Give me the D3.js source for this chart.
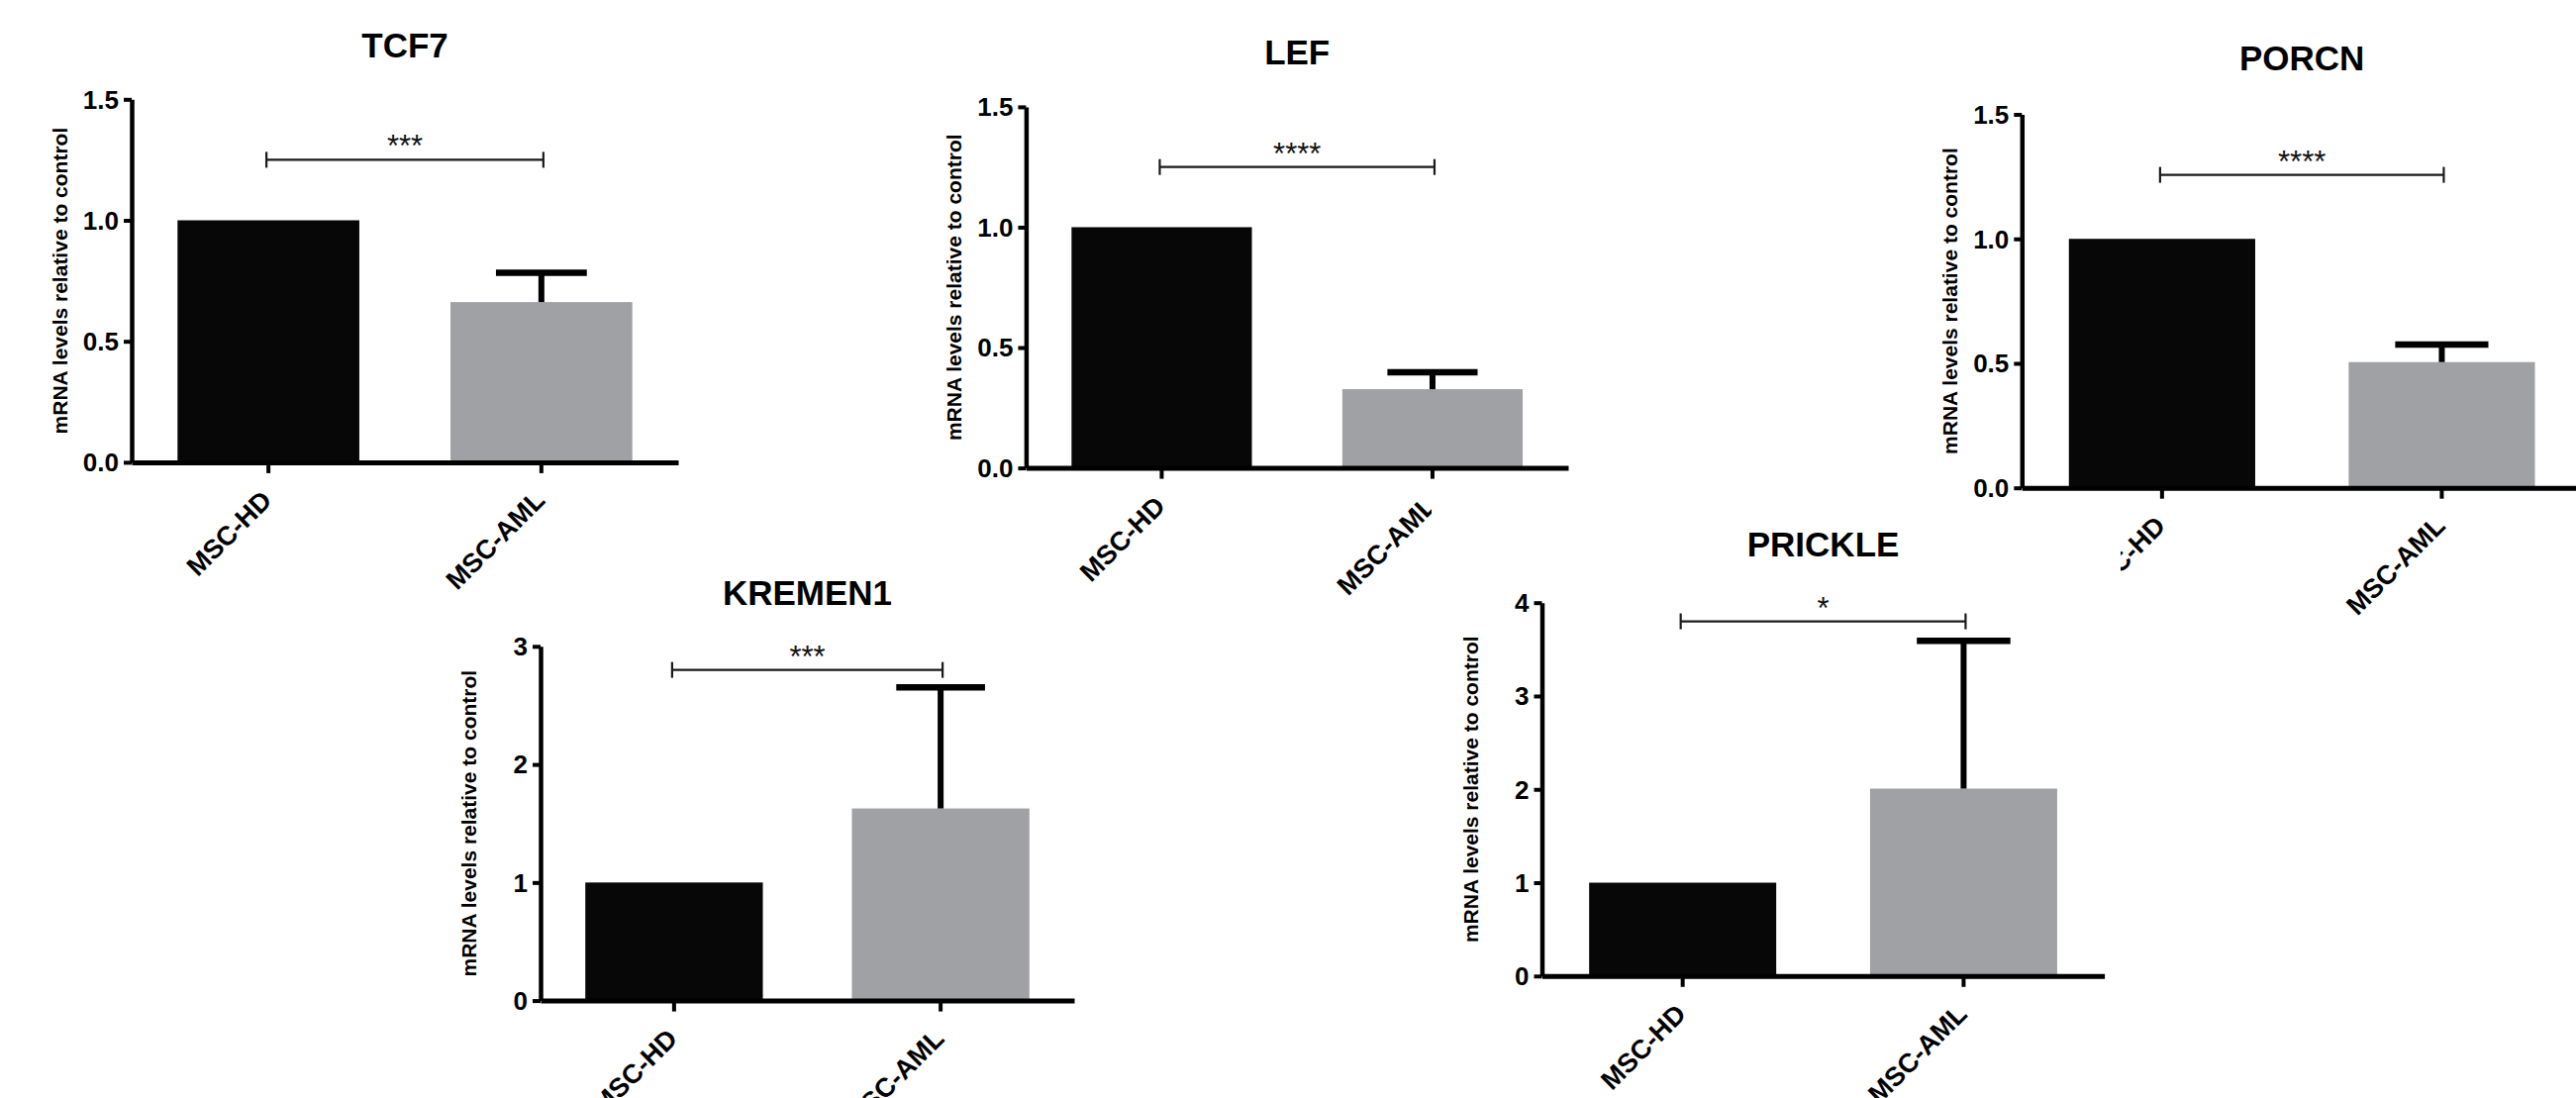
<!DOCTYPE html>
<html><head><meta charset="utf-8">
<script src="https://cdn.jsdelivr.net/npm/d3@7"></script>
<style>html,body{margin:0;padding:0;background:#fff;overflow:hidden}</style>
</head><body>
<svg id="chart" width="2602" height="1109"></svg>
<script>
// ---------- data ----------
const genes = ["TCF7", "LEF", "PORCN", "KREMEN1", "PRICKLE"];
const groups = ["MSC-HD", "MSC-AML"];
const valuesHD = [1, 1, 1, 1, 1];
const valuesAML = [0.662, 0.327, 0.505, 1.627, 2.008];
const errorHD = [0, 0, 0, 0, 0];
const errorAML = [0.121, 0.070, 0.070, 1.025, 1.582];
const yMaxes = [1.5, 1.5, 1.5, 3, 4];
const tickValues = [[0, 0.5, 1, 1.5], [0, 0.5, 1, 1.5], [0, 0.5, 1, 1.5], [0, 1, 2, 3], [0, 1, 2, 3, 4]];
const tickFormats = [".1f", ".1f", ".1f", "d", "d"];
const stars = ["***", "****", "****", "***", "*"];
const bracketValues = [1.25, 1.25, 1.257, 2.80, 3.80];
const yLabel = "mRNA levels relative to control";

// ---------- layout ----------
const layout = [
  {x0: 133,    x1: 685,    yTop: 100.3, yBot: 466.9,  titleY: 57.7},
  {x0: 1036.4, x1: 1584,   yTop: 107.9, yBot: 472.6,  titleY: 65},
  {x0: 2042.3, x1: 2608,   yTop: 115.5, yBot: 492.7,  titleY: 71.4},
  {x0: 546,    x1: 1085,   yTop: 652.8, yBot: 1010.6, titleY: 610.8},
  {x0: 1557.5, x1: 2125.6, yTop: 608.7, yBot: 985.8,  titleY: 562, mask: [1446, 505, 696, 604]}
];
const barColors = ["#070707", "#a0a1a5"];
const FONT = "'Liberation Sans', Arial, Helvetica, sans-serif";

const svg = d3.select("#chart");
svg.append("rect").attr("width", 2602).attr("height", 1109).attr("fill", "#fff");

genes.forEach((gene, i) => {
  const L = layout[i];
  const g = svg.append("g");
  if (L.mask) {
    g.append("rect").attr("x", L.mask[0]).attr("y", L.mask[1])
      .attr("width", L.mask[2]).attr("height", L.mask[3]).attr("fill", "#fff");
  }
  const x = d3.scaleBand().domain(groups).range([L.x0, L.x1])
    .paddingInner(0.334).paddingOuter(0.168);
  const y = d3.scaleLinear().domain([0, yMaxes[i]]).range([L.yBot, L.yTop]);

  const rows = groups.map((grp, k) => ({
    grp, value: k === 0 ? valuesHD[i] : valuesAML[i], err: k === 0 ? errorHD[i] : errorAML[i], k
  }));

  // bars
  g.selectAll("rect.bar").data(rows).join("rect").attr("class", "bar")
    .attr("x", d => x(d.grp)).attr("width", x.bandwidth())
    .attr("y", d => y(d.value)).attr("height", d => y(0) - y(d.value))
    .attr("fill", d => barColors[d.k]);

  // error bars (upper)
  const eb = rows.filter(d => d.err > 0);
  g.selectAll("line.errv").data(eb).join("line")
    .attr("x1", d => x(d.grp) + x.bandwidth() / 2).attr("x2", d => x(d.grp) + x.bandwidth() / 2)
    .attr("y1", d => y(d.value)).attr("y2", d => y(d.value + d.err))
    .attr("stroke", "#000").attr("stroke-width", 6);
  g.selectAll("line.errc").data(eb).join("line")
    .attr("x1", d => x(d.grp) + x.bandwidth() / 4).attr("x2", d => x(d.grp) + x.bandwidth() * 3 / 4)
    .attr("y1", d => y(d.value + d.err)).attr("y2", d => y(d.value + d.err))
    .attr("stroke", "#000").attr("stroke-width", 6.5);

  // y axis
  const yAxis = d3.axisLeft(y).tickValues(tickValues[i]).tickFormat(d3.format(tickFormats[i]))
    .tickSize(8).tickSizeOuter(0).tickPadding(5);
  const ya = g.append("g").attr("transform", `translate(${L.x0},0)`).call(yAxis);
  ya.select(".domain").attr("stroke", "#000").attr("stroke-width", 4.5);
  ya.selectAll(".tick line").attr("stroke", "#000").attr("stroke-width", 4);
  ya.selectAll(".tick text").attr("fill", "#000").attr("font-family", FONT)
    .attr("font-weight", "bold").attr("font-size", 26).attr("dy", "0.34em");

  // x axis
  const xAxis = d3.axisBottom(x).tickSize(11).tickSizeOuter(0);
  const xa = g.append("g").attr("transform", `translate(0,${L.yBot})`).call(xAxis);
  xa.select(".domain").attr("stroke", "#000").attr("stroke-width", 5);
  xa.selectAll(".tick line").attr("stroke", "#000").attr("stroke-width", 4);
  xa.selectAll(".tick text").attr("fill", "#000").attr("font-family", FONT)
    .attr("font-weight", "bold").attr("font-size", 27)
    .attr("x", 0).attr("y", 0).attr("dy", 0)
    .attr("text-anchor", "end").attr("transform", "translate(5,40) rotate(-45)");

  // y label
  g.append("text").attr("transform", `translate(${L.x0 - 65},${(L.yTop + L.yBot) / 2}) rotate(-90)`)
    .attr("text-anchor", "middle").attr("font-family", FONT).attr("font-weight", "bold")
    .attr("font-size", 21).attr("fill", "#000").text(yLabel);

  // title
  g.append("text").attr("x", (L.x0 + L.x1) / 2).attr("y", L.titleY)
    .attr("text-anchor", "middle").attr("font-family", FONT).attr("font-weight", "bold")
    .attr("font-size", 35).attr("fill", "#000").text(gene);

  // significance bracket
  const bx1 = x(groups[0]) + x.bandwidth() / 2 - 2;
  const bx2 = x(groups[1]) + x.bandwidth() / 2 + 2;
  const by = y(bracketValues[i]);
  const br = g.append("g").attr("stroke", "#1a1a1a").attr("stroke-width", 2.2);
  br.append("line").attr("x1", bx1).attr("x2", bx2).attr("y1", by).attr("y2", by);
  br.append("line").attr("x1", bx1).attr("x2", bx1).attr("y1", by - 8).attr("y2", by + 8);
  br.append("line").attr("x1", bx2).attr("x2", bx2).attr("y1", by - 8).attr("y2", by + 8);
  g.append("text").attr("x", (bx1 + bx2) / 2).attr("y", by - 3)
    .attr("text-anchor", "middle").attr("font-family", FONT)
    .attr("font-size", 31).attr("fill", "#111").text(stars[i]);
});
</script>
</body></html>
